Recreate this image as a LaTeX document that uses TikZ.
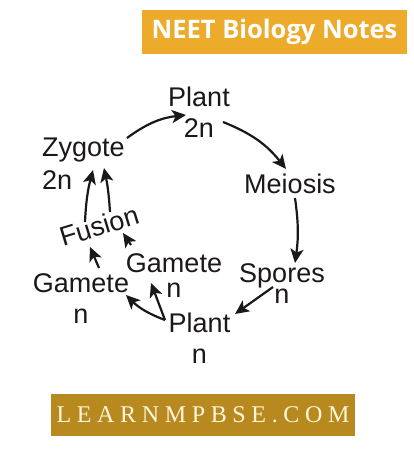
\documentclass[tikz,border=0pt]{standalone}
\usepackage{fontspec}
\setmainfont{Liberation Sans}
\newfontfamily\bannerfont{Open Sans}
\newfontfamily\sitefont{Liberation Serif}
\usetikzlibrary{arrows.meta,calc}
\definecolor{inkc}{HTML}{1C1818}
\definecolor{orangeb}{HTML}{EDAB2C}
\definecolor{goldb}{HTML}{B8891F}
\definecolor{creamt}{HTML}{FFF6DC}
\begin{document}
\begin{tikzpicture}[x=1pt,y=-1pt,
  lbl/.style={font=\fontsize{27}{31}\selectfont, text=inkc, inner sep=0pt, anchor=base},
  arr/.style={draw=inkc, line width=2.2pt, -{Stealth[length=14pt,width=13pt,inset=3.5pt]}}]
\useasboundingbox (0,0) rectangle (413,450);
\fill[white] (0,0) rectangle (413,450);
% banners
\node[fill=orangeb, minimum width=265pt, minimum height=44pt, inner sep=0pt,
      text=white, font=\bannerfont\bfseries\fontsize{25.5}{25.5}\selectfont] (top) at (274.5,32) {NEET Biology Notes};
\node[fill=goldb, minimum width=304pt, minimum height=42pt, inner sep=0pt,
      text=creamt, font=\sitefont\fontsize{24}{24}\selectfont] (site) at (203,415)
      {\makebox[293pt][s]{L\hfill E\hfill A\hfill R\hfill N\hfill M\hfill P\hfill B\hfill S\hfill E\hfill .\hfill C\hfill O\hfill M}};
% labels (base anchor = baseline of the last line)
\node[lbl, align=center] (pl2) at (199,137) {Plant\\2n};
\node[lbl, align=left, anchor=base west, font=\fontsize{27}{33}\selectfont] (zyg) at (42,189) {Zygote\\2n};
\node[lbl] (mei) at (290,193) {Meiosis};
\node[lbl, align=center, font=\fontsize{27}{21}\selectfont] (spo) at (282,303) {Spores\\n};
\node[lbl, align=center] (pln) at (199.5,363) {Plant\\n};
\node[lbl, align=center] (gl) at (81,323) {Gamete\\n};
\node[lbl, align=center, font=\fontsize{27}{25}\selectfont] (gr) at (174,297) {Gamete\\n};
\node[lbl, anchor=base west, rotate=17] (fus) at (63,247) {Fusion};
% connectors
\draw[arr] ($(zyg.base west)+(85,-51)$) to[bend left=15] ($(pl2.base)+(-13,-22)$);
\draw[arr] ($(pl2.base)+(24,-15)$) to[bend left=15] ($(mei.base)+(-4,-24)$);
\draw[arr] ($(mei.base)+(5,5)$) to[bend left=8] ($(spo.base)+(13,-40)$);
\draw[arr] ($(spo.base)+(-9,-16)$) -- ($(pln.base)+(35.5,-49)$);
\draw[arr] ($(pln.base)+(-34.5,-43)$) to[bend left=12] ($(gl.base)+(45,-28)$);
\draw[arr] ($(pln.base)+(-34.5,-43)$) -- ($(gr.base)+(-23,-14)$);
\draw[arr] ($(gl.base)+(18,-55)$) -- ($(fus.base west)+(27,0)$);
\draw[arr] ($(gr.base)+(-43,-52)$) -- ($(fus.base west)+(60,-14)$);
\draw[arr] ($(fus.base west)+(22,-25)$) to[bend left=6] ($(zyg.base west)+(51,-19)$);
\draw[arr] ($(fus.base west)+(47,-35)$) to[bend right=4] ($(zyg.base west)+(62,-21)$);
\end{tikzpicture}
\end{document}
